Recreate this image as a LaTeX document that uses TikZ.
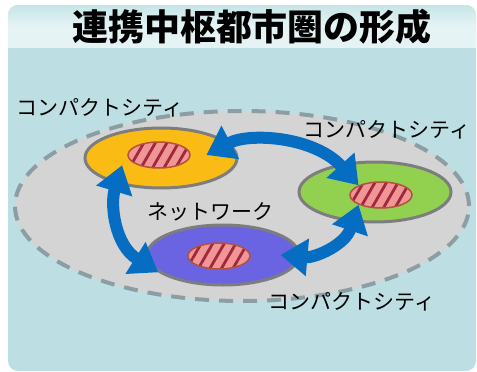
\documentclass[tikz,border=0pt]{standalone}
\usepackage{fontspec}
\newfontfamily\jpfont{Noto Sans CJK JP}
\usetikzlibrary{shapes.geometric, arrows.meta, patterns.meta}

\definecolor{panelblue}{RGB}{189,222,226}
\definecolor{bandtop}{RGB}{198,229,232}
\definecolor{bandmid}{RGB}{230,243,244}
\definecolor{areagray}{RGB}{212,212,212}
\definecolor{dashgray}{RGB}{140,158,164}
\definecolor{cityyellow}{RGB}{250,188,20}
\definecolor{citygreen}{RGB}{146,208,80}
\definecolor{citypurple}{RGB}{106,100,226}
\definecolor{cityrim}{RGB}{125,125,125}
\definecolor{corepink}{RGB}{240,150,150}
\definecolor{corestripe}{RGB}{160,40,60}
\definecolor{corerim}{RGB}{180,80,60}
\definecolor{linkblue}{RGB}{5,110,195}

\tikzstyle{area}=[ellipse,draw=dashgray,fill=areagray,line width=4pt,dash pattern=on 14pt off 10pt,minimum width=454pt,minimum height=190pt,inner sep=0pt]
\tikzstyle{city}=[ellipse,draw=cityrim,line width=3pt,minimum width=152pt,minimum height=60pt,inner sep=0pt]
\tikzstyle{core}=[ellipse,draw=corerim,line width=1.5pt,minimum width=62pt,minimum height=26pt,inner sep=0pt,preaction={fill=corepink},pattern={Lines[angle=60,distance=10pt,line width=2.8pt]},pattern color=corestripe]
\tikzstyle{cityname}=[font=\jpfont\fontsize{21}{21}\selectfont,inner sep=0pt]
\tikzstyle{link}=[draw=linkblue,line width=12pt,{Triangle[width=36pt,length=27pt]}-{Triangle[width=36pt,length=27pt]}]

\begin{document}
\begin{tikzpicture}[x=1pt,y=-1pt]
		\useasboundingbox (0,0) rectangle (477,372);
		
		% panel and title band
		\fill[panelblue,rounded corners=10pt] (8,5) rectangle (476,371);
		\shade[top color=bandtop,bottom color=bandmid,middle color=bandmid] (8,48) {[rounded corners=10pt] -- (8,5) -- (476,5)} -- (476,48) -- cycle;
		\node (title) at (252,27) {\jpfont\bfseries\fontsize{36}{36}\selectfont 連携中枢都市圏の形成};
		
		% area and cities
		\node (area) [area] at (242,206) {};
		\node (city1) [city,fill=cityyellow] at (161,158) {};
		\node (city2) [city,fill=citygreen] at (375,192) {};
		\node (city3) [city,fill=citypurple] at (223,255) {};
		\node (core1) [core] at (159,155) {};
		\node (core2) [core] at (381,195) {};
		\node (core3) [core] at (219,256) {};
		
		\node (name1) [cityname] at (100,108) {コンパクトシティ};
		\node (name2) [cityname] at (387,130) {コンパクトシティ};
		\node (name3) [cityname] at (352,302) {コンパクトシティ};
		\node (net) [cityname] at (210,212) {ネットワーク};
		
		% network links
		\draw[link] ([xshift=15pt]core1.east) .. controls (250,132) and (315,137) .. (core2.north west);
		\draw[link] ([xshift=-14pt]core1.south west) .. controls (110,205) and (115,245) .. (city3.195);
		\draw[link] ([xshift=-20pt]city3.east) .. controls (315,258) and (345,245) .. (core2.south west);
		
\end{tikzpicture}
\end{document}
